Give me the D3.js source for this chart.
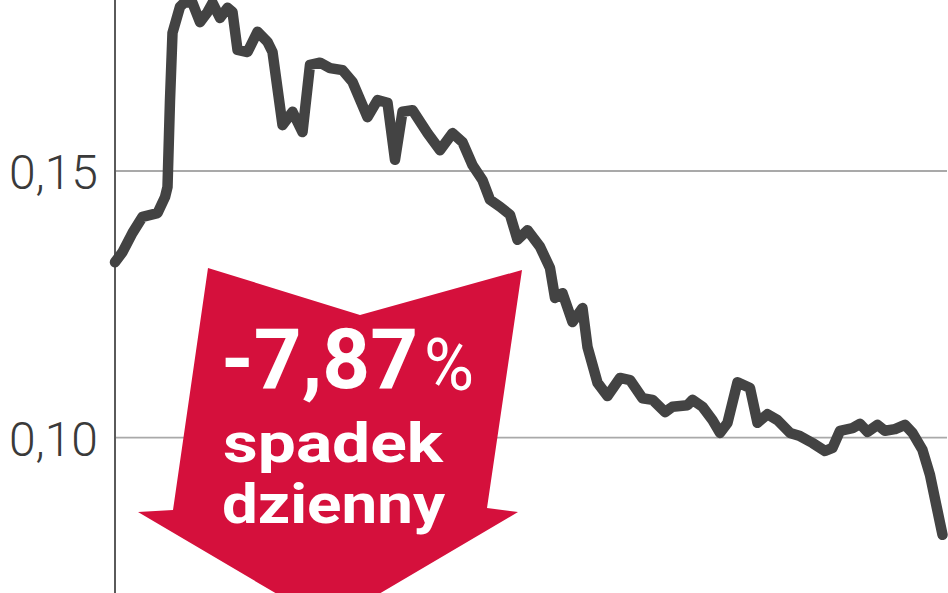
<!DOCTYPE html>
<html>
<head>
<meta charset="utf-8">
<script src="https://cdn.jsdelivr.net/npm/d3@7"></script>
<style>
  html, body { margin: 0; padding: 0; background: #fff; }
  svg { display: block; }
</style>
</head>
<body>
<div id="chart"></div>
<script>
// session day number (x) and closing price in PLN (y)
const days = [0, 3, 7, 11, 17, 20, 21, 22, 23, 26, 28, 31, 34, 37, 39, 42, 45, 47, 49, 53,
  57, 61, 63, 67, 71, 75, 78, 82, 86, 91, 95, 101, 105, 109, 112, 115, 119, 125, 130, 135,
  139, 143, 147, 150, 154, 158, 161, 165, 170, 174, 176, 179, 183, 187, 189, 193, 197, 202, 206, 211,
  215, 220, 223, 229, 231, 235, 239, 242, 245, 249, 254, 257, 261, 265, 270, 274, 279, 284, 287, 290,
  295, 298, 301, 305, 308, 312, 316, 319, 323, 326, 331];
const prices = [0.1329, 0.1348, 0.1384, 0.1414, 0.1421, 0.1451, 0.1470, 0.1633, 0.1759, 0.1808,
  0.1817, 0.1815, 0.1779, 0.1798, 0.1815, 0.1787, 0.1806, 0.1798, 0.1727, 0.1723,
  0.1761, 0.1742, 0.1723, 0.1586, 0.1611, 0.1573, 0.1699, 0.1703, 0.1693, 0.1689,
  0.1667, 0.1601, 0.1633, 0.1628, 0.1521, 0.1611, 0.1614, 0.1571, 0.1539, 0.1571,
  0.1554, 0.1511, 0.1483, 0.1446, 0.1433, 0.1418, 0.1371, 0.1389, 0.1358, 0.1318,
  0.1262, 0.1271, 0.1217, 0.1243, 0.1170, 0.1103, 0.1078, 0.1112, 0.1108, 0.1074,
  0.1071, 0.1048, 0.1058, 0.1061, 0.1071, 0.1058, 0.1033, 0.1009, 0.1028, 0.1104,
  0.1093, 0.1028, 0.1044, 0.1033, 0.1009, 0.1003, 0.0990, 0.0975, 0.0981, 0.1013,
  0.1018, 0.1026, 0.1011, 0.1024, 0.1013, 0.1016, 0.1024, 0.1009, 0.0977, 0.0930,
  0.0818];
const yTicks = [0.10, 0.15];
const badge = ["-7,87", "%", "spadek", "dzienny"];

const width = 948, height = 593;

const svg = d3.select('#chart')
  .append('svg')
  .attr('width', width)
  .attr('height', height);

const x = d3.scaleLinear().domain([0, 331]).range([115, 942.5]);
const y = d3.scaleLinear().domain([0.10, 0.15]).range([437.7, 171]);

// gridlines
svg.selectAll('line.grid')
  .data(yTicks)
  .join('line')
  .attr('class', 'grid')
  .attr('x1', 115).attr('x2', 947)
  .attr('y1', d => y(d)).attr('y2', d => y(d))
  .style('stroke', '#a9a9a9')
  .style('stroke-width', 1.8);

// tick labels
svg.selectAll('text.tick')
  .data(yTicks)
  .join('text')
  .attr('class', 'tick')
  .attr('x', 98)
  .attr('y', d => y(d) + 18)
  .attr('text-anchor', 'end')
  .style('font-family', 'Roboto, "Open Sans", sans-serif')
  .style('font-weight', 300)
  .style('font-size', '48px')
  .style('fill', '#3a3a3a')
  .text(d => d3.format('.2f')(d).replace('.', ','));

// vertical axis
svg.append('line')
  .attr('x1', 115).attr('x2', 115)
  .attr('y1', 0).attr('y2', height)
  .style('stroke', '#5a5a5a')
  .style('stroke-width', 2);

// price line
const line = d3.line()
  .x((d, i) => x(days[i]))
  .y(d => y(d));

svg.append('path')
  .datum(prices)
  .attr('d', line)
  .style('fill', 'none')
  .style('stroke', '#434343')
  .style('stroke-width', 10.5)
  .style('stroke-linejoin', 'round')
  .style('stroke-linecap', 'round');

// red arrow badge
const arrow = [[208, 268], [360, 315], [522, 270], [487, 508], [518, 512],
  [328, 624], [138, 512], [173, 510]];
svg.append('path')
  .attr('d', 'M' + arrow.map(p => p.join(',')).join('L') + 'Z')
  .style('fill', '#d5103c');

const g = svg.append('g')
  .style('font-family', 'Roboto, "Open Sans", sans-serif')
  .style('fill', '#fff');

g.append('text')
  .attr('x', 221).attr('y', 388)
  .attr('textLength', 197)
  .attr('lengthAdjust', 'spacingAndGlyphs')
  .style('font-weight', 700)
  .style('font-size', '84px')
  .text(badge[0]);

g.append('text')
  .attr('x', 424).attr('y', 390)
  .attr('textLength', 50)
  .attr('lengthAdjust', 'spacingAndGlyphs')
  .style('font-weight', 400)
  .style('font-size', '72px')
  .text(badge[1]);

g.append('text')
  .attr('x', 223).attr('y', 462)
  .attr('textLength', 220)
  .attr('lengthAdjust', 'spacingAndGlyphs')
  .style('font-weight', 700)
  .style('font-size', '55px')
  .text(badge[2]);

g.append('text')
  .attr('x', 222).attr('y', 523)
  .attr('textLength', 223)
  .attr('lengthAdjust', 'spacingAndGlyphs')
  .style('font-weight', 700)
  .style('font-size', '55px')
  .text(badge[3]);
</script>
</body>
</html>
